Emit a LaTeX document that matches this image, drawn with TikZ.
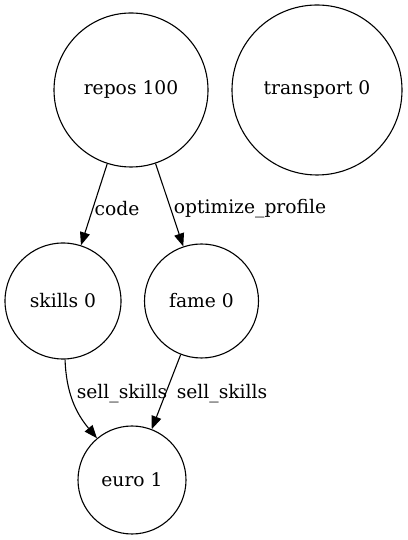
\documentclass[tikz,border=0pt]{standalone}
\usepackage{fontspec}
\setmainfont{DejaVu Serif}
\usetikzlibrary{arrows.meta}

\begin{document}
\begin{tikzpicture}[x=1pt, y=1pt, every node/.style={circle, draw, inner sep=0pt, line width=1.1pt, font=\fontsize{18.7}{22}\selectfont},
    lbl/.style={rectangle, draw=none},
    arc/.style={line width=1.1pt, -{Triangle[length=13pt, width=10pt]}}]

        \useasboundingbox (0,0) rectangle (407,540);

        % nodes
        \node[minimum size=154pt] (repos) at (131,450) {repos 100};
        \node[minimum size=170pt] (transport) at (317,450) {transport 0};
        \node[minimum size=116pt] (skills) at (63,239) {skills 0};
        \node[minimum size=114pt] (fame) at (201.5,239) {fame 0};
        \node[minimum size=108pt] (euro) at (132,60) {euro 1};
        % edge labels
        \node[lbl] (lcode) at (117,331) {code};
        \node[lbl] (lopt) at (250,331) {optimize\_profile};
        \node[lbl] (lsell1) at (122,146) {sell\_skills};
        \node[lbl] (lsell2) at (222,146) {sell\_skills};
        % edges
        \draw[arc] (repos) -- (skills);
        \draw[arc] (repos) -- (fame);
        \draw[arc] (skills) to[out=-88, in=130] (euro);
        \draw[arc] (fame) -- (euro);
    \end{tikzpicture}
\end{document}
